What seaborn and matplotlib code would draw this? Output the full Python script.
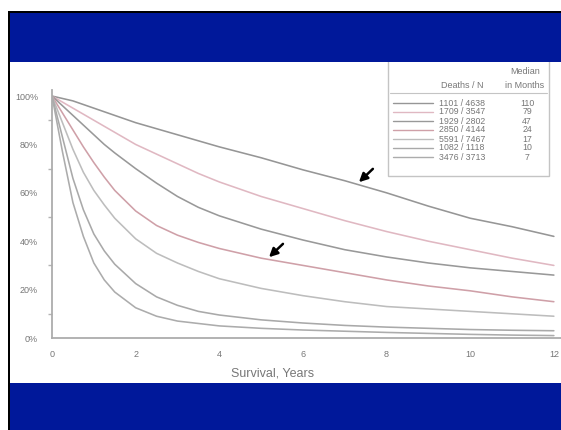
import numpy as np
import pandas as pd
import matplotlib
matplotlib.use("Agg")
import matplotlib.pyplot as plt
from matplotlib.patches import Rectangle
from matplotlib.lines import Line2D
import seaborn as sns

# ---- data ----
years = [0, 0.25, 0.5, 0.75, 1, 1.25, 1.5, 2, 2.5, 3, 3.5, 4, 5, 6, 7, 8, 9, 10, 11, 12]
surv_110 = [100, 99, 98, 96.5, 95, 93.5, 92, 89, 86.5, 84, 81.5, 79, 74.5, 69.5, 65, 60, 54.5, 49.5, 46, 42]
surv_79 = [100, 97.5, 95, 92.5, 90, 87.5, 85, 80, 76, 72, 68, 64.5, 58.5, 53.5, 48.5, 44, 40, 36.5, 33, 30]
surv_47 = [100, 96, 92, 88, 84, 80, 76.5, 70, 64, 58.5, 54, 50.5, 45, 40.5, 36.5, 33.5, 31, 29, 27.5, 26]
surv_24 = [100, 93, 86, 79, 72.5, 66.5, 61, 52.5, 46.5, 42.5, 39.5, 37, 33, 30, 27, 24, 21.5, 19.5, 17, 15]
surv_17 = [100, 89, 78, 68.5, 61, 55, 49.5, 41, 35, 31, 27.5, 24.5, 20.5, 17.5, 15, 13, 12, 11, 10, 9]
surv_10 = [100, 83, 66, 53, 43, 36, 30.5, 22.5, 17, 13.5, 11, 9.5, 7.5, 6.2, 5.2, 4.5, 4, 3.5, 3.2, 3]
surv_7 = [100, 77, 56, 42, 31, 24, 19, 12.5, 9, 7, 6, 5, 4, 3.3, 2.8, 2.3, 1.9, 1.5, 1.2, 1]

deaths_n = ["1101 / 4638", "1709 / 3547", "1929 / 2802", "2850 / 4144",
            "5591 / 7467", "1082 / 1118", "3476 / 3713"]
median_months = ["110", "79", "47", "24", "17", "10", "7"]
y_ticks = [0, 20, 40, 60, 80, 100]
y_tick_labels = ["0%", "20%", "40%", "60%", "80%", "100%"]
x_ticks = [0, 2, 4, 6, 8, 10, 12]

series = [surv_110, surv_79, surv_47, surv_24, surv_17, surv_10, surv_7]
colors = ["#969696", "#e0b8c2", "#999999", "#cfa0a8", "#bdbdbd", "#a9a9a9", "#acacac"]

rows = []
for i, s in enumerate(series):
    for t, v in zip(years, s):
        rows.append({"years": t, "survival": v, "group": median_months[i]})
df = pd.DataFrame(rows)

sns.set_style("white")
plt.rcParams["font.family"] = ["Liberation Sans", "DejaVu Sans"]

W, H = 561, 430
fig = plt.figure(figsize=(W / 100, H / 100), dpi=100)
fig.patch.set_facecolor("white")


def fx(px):
    return px / W


def fy(py):
    return (H - py) / H


ax = fig.add_axes([fx(52), fy(338), fx(561) - fx(52), fy(90) - fy(338)])
sns.lineplot(data=df, x="years", y="survival", hue="group",
             palette=colors, hue_order=median_months, legend=False,
             linewidth=1.15, ax=ax)

ax.set_xlim(0, 12.17)
ax.set_ylim(0, 102.5)
ax.set_xticks(x_ticks)
ax.set_xticklabels([str(x) for x in x_ticks])
ax.set_yticks(y_ticks)
ax.set_yticklabels(y_tick_labels)
ax.set_yticks([10, 30, 50, 70, 90], minor=True)
ax.set_xlabel("")
ax.set_ylabel("")
for sp in ["top", "right"]:
    ax.spines[sp].set_visible(False)
for sp in ["left", "bottom"]:
    ax.spines[sp].set_color("#acacac")
    ax.spines[sp].set_linewidth(1.3)
ax.tick_params(axis="x", direction="inout", length=7, width=1.0, color="#acacac",
               labelsize=6.5, labelcolor="#777777", pad=5)
ax.tick_params(axis="y", which="major", direction="out", length=5, width=1.0,
               color="#acacac", labelsize=6.5, labelcolor="#777777", pad=5)
ax.tick_params(axis="y", which="minor", direction="out", length=3, width=1.0,
               colors="#b4b4b4", left=True)

# arrows
ax.annotate("", xy=(7.29, 63.6), xytext=(7.72, 70.7),
            arrowprops=dict(arrowstyle="-|>,head_length=0.5,head_width=0.25",
                            color="black", lw=1.8))
ax.annotate("", xy=(5.14, 32.6), xytext=(5.57, 39.7),
            arrowprops=dict(arrowstyle="-|>,head_length=0.5,head_width=0.25",
                            color="black", lw=1.8))

# x label
fig.text(fx(273), fy(374), "Survival, Years", ha="center", va="center",
         fontsize=9, color="#777777")

# legend table
fig.add_artist(Rectangle((fx(388), fy(176)), fx(549) - fx(388), fy(58) - fy(176),
                         transform=fig.transFigure, facecolor="white",
                         edgecolor="#c4c4c4", linewidth=1.0, zorder=5))
fig.add_artist(Line2D([fx(390), fx(547)], [fy(93), fy(93)],
                      transform=fig.transFigure, color="#c4c4c4", lw=0.8, zorder=6))
fig.text(fx(525), fy(72), "Median", ha="center", va="center", fontsize=6.5,
         color="#777777", zorder=7)
fig.text(fx(525), fy(85), "in Months", ha="center", va="center", fontsize=6.5,
         color="#777777", zorder=7)
fig.text(fx(462), fy(85), "Deaths / N", ha="center", va="center", fontsize=6.5,
         color="#777777", zorder=7)
row_y = [103, 112, 121, 130, 139, 148, 157]
for i in range(len(deaths_n)):
    fig.add_artist(Line2D([fx(393), fx(433)], [fy(row_y[i]), fy(row_y[i])],
                          transform=fig.transFigure, color=colors[i], lw=1.0, zorder=7))
    fig.text(fx(462), fy(row_y[i]), deaths_n[i], ha="center", va="center",
             fontsize=6.3, color="#777777", zorder=7)
    fig.text(fx(527), fy(row_y[i]), median_months[i], ha="center", va="center",
             fontsize=6.3, color="#777777", zorder=7)

# slide frame: blue bands and black border
blue = "#00189a"
fig.add_artist(Rectangle((fx(10), fy(62)), 1 - fx(10), fy(13) - fy(62),
                         transform=fig.transFigure, facecolor=blue,
                         edgecolor="none", zorder=10))
fig.add_artist(Rectangle((fx(10), 0), 1 - fx(10), fy(383),
                         transform=fig.transFigure, facecolor=blue,
                         edgecolor="none", zorder=10))
fig.add_artist(Rectangle((fx(8), fy(13)), 1 - fx(8), fy(11) - fy(13),
                         transform=fig.transFigure, facecolor="black",
                         edgecolor="none", zorder=11))
fig.add_artist(Rectangle((fx(8), 0), fx(10) - fx(8), fy(11),
                         transform=fig.transFigure, facecolor="black",
                         edgecolor="none", zorder=11))

fig.savefig("out.png", dpi=100)
